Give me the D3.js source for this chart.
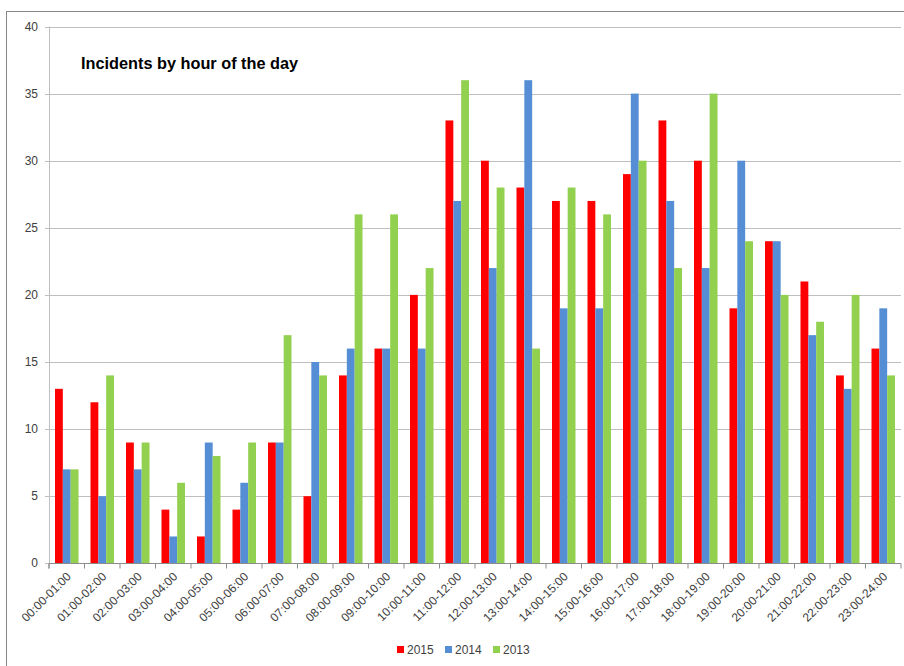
<!DOCTYPE html>
<html><head><meta charset="utf-8">
<script src="https://cdn.jsdelivr.net/npm/d3@7"></script>
<style>body{margin:0;background:#fff}svg{display:block}</style>
</head><body>
<script>
const categories = ["00:00-01:00","01:00-02:00","02:00-03:00","03:00-04:00","04:00-05:00","05:00-06:00","06:00-07:00","07:00-08:00","08:00-09:00","09:00-10:00","10:00-11:00","11:00-12:00","12:00-13:00","13:00-14:00","14:00-15:00","15:00-16:00","16:00-17:00","17:00-18:00","18:00-19:00","19:00-20:00","20:00-21:00","21:00-22:00","22:00-23:00","23:00-24:00"];
const seriesNames = ["2015","2014","2013"];
const values2015 = [13,12,9,4,2,4,9,5,14,16,20,33,30,28,27,27,29,33,30,19,24,21,14,16];
const values2014 = [7,5,7,2,9,6,9,15,16,16,16,27,22,36,19,19,35,27,22,30,24,17,13,19];
const values2013 = [7,14,9,6,8,9,17,14,26,26,22,36,28,16,28,26,30,22,35,24,20,18,20,14];
const yTicks = [0,5,10,15,20,25,30,35,40];
const colors = ["#FF0000","#558ED5","#92D050"];
const title = "Incidents by hour of the day";

const W = 904, H = 666;
const svg = d3.select("body").append("svg").attr("width", W).attr("height", H);
const font = "'Liberation Sans', Arial, sans-serif";

// outer chart border
svg.append("rect").attr("x",6.5).attr("y",11.5).attr("width",W+10).attr("height",H+10)
  .attr("fill","none").attr("stroke","#868686").attr("stroke-width",1);

const L = 49, R = 901, T = 26.5, B = 563.3;
const x = d3.scaleBand().domain(categories).range([L, R]).paddingInner(0).paddingOuter(0);
const y = d3.scaleLinear().domain([0, 40]).range([B, T]);
const inner = d3.scaleBand().domain(seriesNames).range([6, x.bandwidth() - 6]).padding(0);

// gridlines
svg.append("g").selectAll("line").data(yTicks).join("line")
  .attr("x1", L - 4).attr("x2", R).attr("y1", d => Math.round(y(d)) + 0.5).attr("y2", d => Math.round(y(d)) + 0.5)
  .attr("stroke", "#bfbfbf").attr("stroke-width", 1);

// y axis line
svg.append("line").attr("x1", L + 0.5).attr("x2", L + 0.5).attr("y1", T).attr("y2", B)
  .attr("stroke", "#bfbfbf");

// y labels
svg.append("g").selectAll("text").data(yTicks).join("text")
  .attr("x", L - 11).attr("y", d => y(d) + 4).attr("text-anchor", "end")
  .attr("font-family", font).attr("font-size", 12).attr("fill", "#404040").text(d => d);

// bars
const all = [values2015, values2014, values2013];
seriesNames.forEach((s, si) => {
  svg.append("g").selectAll("rect").data(categories).join("rect")
    .attr("x", c => x(c) + inner(s))
    .attr("width", inner.bandwidth())
    .attr("y", (c, i) => y(all[si][i]))
    .attr("height", (c, i) => B - y(all[si][i]))
    .attr("fill", colors[si]);
});

// x axis
const xAxis = d3.axisBottom(x).tickSize(5).tickSizeOuter(5).tickFormat("");
const gx = svg.append("g").attr("transform", `translate(0,${Math.round(B)+0.5})`).call(xAxis);
gx.select(".domain").attr("stroke", "#8c8c8c").attr("d", `M${L},5V0H${R}V5`);
gx.selectAll(".tick line").attr("stroke", "#8c8c8c").attr("transform", `translate(${-x.bandwidth()/2},0)`);

// x labels
svg.append("g").selectAll("text").data(categories).join("text")
  .attr("transform", c => `translate(${x(c) + x.bandwidth()/2 + 5},${B + 14}) rotate(-45)`)
  .attr("text-anchor", "end")
  .attr("font-family", font).attr("font-size", 12).attr("fill", "#404040").text(c => c);

// title
svg.append("text").attr("x", 81).attr("y", 69).attr("font-family", font)
  .attr("font-weight", "bold").attr("font-size", 16.3).attr("fill", "#000").text(title);

// legend
const lg = svg.append("g").attr("transform", "translate(397,650)");
const legX = [0, 48, 96];
seriesNames.forEach((s, i) => {
  lg.append("rect").attr("x", legX[i]).attr("y", -4).attr("width", 7).attr("height", 7).attr("fill", colors[i]);
  lg.append("text").attr("x", legX[i] + 10).attr("y", 4).attr("font-family", font)
    .attr("font-size", 12).attr("fill", "#404040").text(s);
});
</script>
</body></html>
